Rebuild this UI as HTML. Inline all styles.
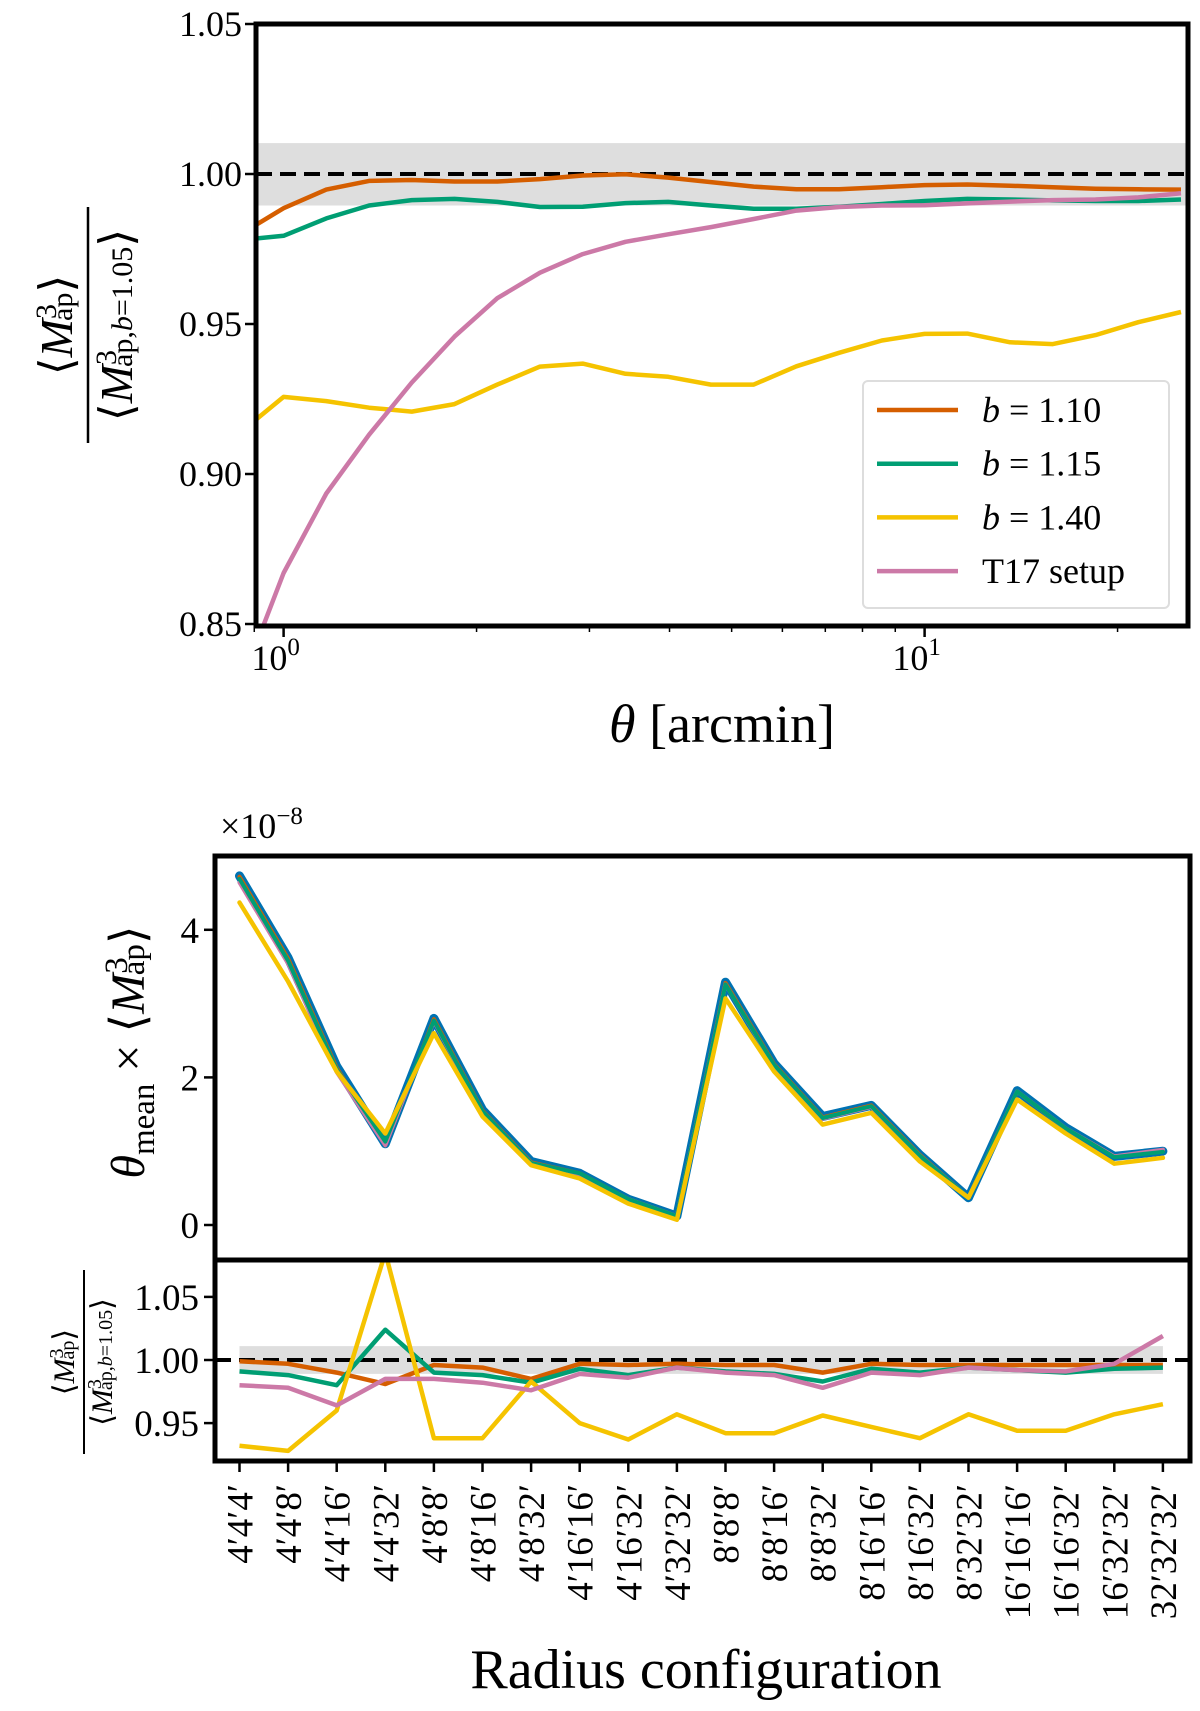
<!DOCTYPE html>
<html><head><meta charset="utf-8"><style>
body{margin:0;background:#fff;}
svg{display:block;font-family:"Liberation Serif",serif;}
</style></head><body>
<svg id="chart" width="1200" height="1711" viewBox="0 0 1200 1711"></svg>
<script>
// ---------- Top panel data ----------
const thetaLog = [-1,0,1,2,3,4,5,6,7,8,9,10,11,12,13,14,15,16,17,18,19,20,21]; // log10(theta)*15
const topB110 = [0.980,0.9886,0.9948,0.9977,0.9980,0.9975,0.9975,0.9983,0.9995,0.9999,0.9988,0.9973,0.9958,0.9949,0.9949,0.9956,0.9963,0.9965,0.9961,0.9956,0.9951,0.9949,0.9948];
const topB115 = [0.978,0.9794,0.9852,0.9895,0.9913,0.9917,0.9907,0.9890,0.9891,0.9903,0.9907,0.9895,0.9884,0.9884,0.9891,0.9900,0.9910,0.9917,0.9915,0.9912,0.9910,0.9910,0.9915];
const topB140 = [0.914,0.9257,0.9243,0.9221,0.9208,0.9233,0.9298,0.9358,0.9368,0.9334,0.9324,0.9298,0.9298,0.9359,0.9404,0.9445,0.9467,0.9468,0.9439,0.9433,0.9463,0.9506,0.9540];
const topT17 = [0.830,0.8670,0.8935,0.9131,0.9305,0.9458,0.9586,0.9671,0.9733,0.9774,0.9799,0.9823,0.9850,0.9878,0.9890,0.9895,0.9896,0.9902,0.9908,0.9913,0.9915,0.9922,0.9936];
const topYTicks = [0.85,0.90,0.95,1.00,1.05];
const topYTickLabels = ["0.85","0.90","0.95","1.00","1.05"];

// ---------- Bottom panels data ----------
const configs = ["4′4′4′","4′4′8′","4′4′16′","4′4′32′","4′8′8′","4′8′16′","4′8′32′","4′16′16′","4′16′32′","4′32′32′","8′8′8′","8′8′16′","8′8′32′","8′16′16′","8′16′32′","8′32′32′","16′16′16′","16′16′32′","16′32′32′","32′32′32′"];
const midB105 = [4.73,3.62,2.15,1.10,2.80,1.56,0.86,0.70,0.35,0.12,3.29,2.19,1.47,1.62,0.95,0.37,1.82,1.32,0.93,1.00];
const midB110 = [4.72,3.61,2.13,1.08,2.79,1.55,0.85,0.70,0.35,0.12,3.28,2.18,1.46,1.62,0.95,0.37,1.81,1.31,0.93,1.00];
const midB115 = [4.69,3.58,2.11,1.13,2.77,1.54,0.84,0.70,0.35,0.12,3.26,2.17,1.45,1.61,0.94,0.37,1.81,1.31,0.92,0.99];
const midT17 = [4.64,3.54,2.07,1.08,2.76,1.53,0.84,0.69,0.35,0.12,3.26,2.16,1.44,1.60,0.94,0.37,1.81,1.31,0.93,1.02];
const midB140 = [4.37,3.30,2.08,1.24,2.60,1.47,0.81,0.63,0.29,0.07,3.07,2.08,1.36,1.52,0.86,0.37,1.70,1.24,0.83,0.91];
const midYTicks = [0,2,4];
const lowB110 = [0.999,0.997,0.990,0.981,0.996,0.994,0.985,0.997,0.996,0.997,0.996,0.996,0.990,0.997,0.996,0.996,0.996,0.996,0.996,0.996];
const lowB115 = [0.991,0.988,0.980,1.024,0.990,0.988,0.982,0.993,0.988,0.994,0.991,0.989,0.983,0.993,0.990,0.994,0.992,0.990,0.993,0.994];
const lowT17 = [0.980,0.978,0.964,0.985,0.985,0.982,0.976,0.989,0.986,0.994,0.990,0.988,0.978,0.990,0.988,0.994,0.992,0.991,0.997,1.019];
const lowB140 = [0.932,0.928,0.960,1.085,0.938,0.938,0.983,0.950,0.937,0.957,0.942,0.942,0.956,0.947,0.938,0.957,0.944,0.944,0.957,0.965];
const lowYTicks = [0.95,1.00,1.05];
const lowYTickLabels = ["0.95","1.00","1.05"];

const C = {o:"#d55e00", g:"#009e73", y:"#f5c300", p:"#cc79a7", b:"#0072b2"};
const NS = "http://www.w3.org/2000/svg";
const svg = document.getElementById('chart');
function mk(tag, attrs, parent, text){
  const e = document.createElementNS(NS, tag);
  for (const k in attrs) e.setAttribute(k, attrs[k]);
  if (text !== undefined) e.textContent = text;
  (parent||svg).appendChild(e);
  return e;
}

// ===== TOP PANEL =====
const T = {l:256, r:1188, t:24, b:626};
const tx = v => 283.6 + (v/15) * 641;
const ty = v => T.t + (1.05 - v) * 3000;
const defs = mk('defs',{});
const cp1 = mk('clipPath',{id:'c1'},defs); mk('rect',{x:T.l,y:T.t,width:T.r-T.l,height:T.b-T.t},cp1);
const g1 = mk('g',{'clip-path':'url(#c1)'});


const band1 = mk('rect',{x:T.l,y:ty(1.0103),width:T.r-T.l,height:ty(0.9895)-ty(1.0103),fill:'#dedede'},g1);


const dash1 = mk('line',{x1:T.l,x2:T.r,y1:ty(1),y2:ty(1),stroke:'#000','stroke-width':4,'stroke-dasharray':'16,8'},g1);


function topLine(arr,col,name){
  const pts = arr.map((v,i)=>tx(thetaLog[i]).toFixed(1)+','+ty(v).toFixed(1)).join(' ');
  const pl = mk('polyline',{points:pts,fill:'none',stroke:col,'stroke-width':4.5,'stroke-linejoin':'round'},g1);
  
  
}
topLine(topB115,C.g,'line-b115');
topLine(topB110,C.o,'line-b110');
topLine(topB140,C.y,'line-b140');
topLine(topT17,C.p,'line-t17');
const f1 = mk('rect',{x:T.l,y:T.t,width:T.r-T.l,height:T.b-T.t,fill:'none',stroke:'#000','stroke-width':5});


topYTicks.forEach((v,i)=>{
  mk('line',{x1:T.l-11,x2:T.l,y1:ty(v),y2:ty(v),stroke:'#000','stroke-width':2.5});
  const t = mk('text',{x:T.l-14,y:ty(v)+12,'text-anchor':'end','font-size':36},svg,topYTickLabels[i]);
  
  
});
for (let d=0; d<=1; d++){
  for (let m=1; m<=9; m++){
    const lv = (d + Math.log10(m))*15;
    const x = tx(lv);
    if (x < T.l || x > T.r) continue;
    mk('line',{x1:x,x2:x,y1:T.b,y2:T.b+(m===1?11:6),stroke:'#000','stroke-width':m===1?2.5:1.5});
  }
}
mk('line',{x1:tx(Math.log10(0.9)*15),x2:tx(Math.log10(0.9)*15),y1:T.b,y2:T.b+6,stroke:'#000','stroke-width':1.5});
[[0,"0"],[15,"1"]].forEach(([lv,e])=>{
  const t = mk('text',{x:tx(lv)-8,y:670,'text-anchor':'middle','font-size':36},svg);
  
  
  mk('tspan',{},t,'10');
  mk('tspan',{dy:-15,'font-size':25},t,e);
});
const xt1 = mk('text',{x:722,y:742,'text-anchor':'middle','font-size':54},svg);


mk('tspan',{'font-style':'italic'},xt1,'θ');
mk('tspan',{},xt1,' [arcmin]');
const yl1 = mk('g',{transform:'translate(88,325) rotate(-90)'});


mk('line',{x1:-118,x2:118,y1:0,y2:0,stroke:'#000','stroke-width':2.5},yl1);
const n1 = mk('text',{x:0,y:-16,'text-anchor':'middle','font-size':46},yl1);
mk('tspan',{},n1,'⟨');mk('tspan',{'font-style':'italic'},n1,'M');mk('tspan',{dy:-16,'font-size':30},n1,'3');mk('tspan',{dy:16,dx:-17,'font-size':30},n1,'ap');mk('tspan',{},n1,'⟩');
const d1 = mk('text',{x:0,y:44,'text-anchor':'middle','font-size':46},yl1);
mk('tspan',{},d1,'⟨');mk('tspan',{'font-style':'italic'},d1,'M');mk('tspan',{dy:-16,'font-size':30},d1,'3');mk('tspan',{dy:16,dx:-17,'font-size':30},d1,'ap,');mk('tspan',{'font-size':30,'font-style':'italic'},d1,'b');mk('tspan',{'font-size':30},d1,'=1.05');mk('tspan',{},d1,'⟩');
const lg = mk('g',{});


mk('rect',{x:863,y:381,width:306,height:227,rx:5,fill:'#fff','fill-opacity':0.85,stroke:'#ddd','stroke-width':2},lg);
[[C.o,'1.10'],[C.g,'1.15'],[C.y,'1.40'],[C.p,null]].forEach(([c,l],i)=>{
  const y = 410 + i*53.7;
  const e = mk('g',{},lg);
  
  
  mk('line',{x1:877,x2:958,y1:y,y2:y,stroke:c,'stroke-width':4.5},e);
  const t = mk('text',{x:982,y:y+12,'font-size':36},e);
  if (l){ mk('tspan',{'font-style':'italic'},t,'b'); mk('tspan',{},t,' = '+l); }
  else t.textContent = 'T17 setup';
});

// ===== MIDDLE PANEL =====
const M = {l:215, r:1190, t:856, b:1260};
const cx = i => 239.5 + i*48.6;
const my = v => 1225 - v*73.8;
const cp2 = mk('clipPath',{id:'c2'},defs); mk('rect',{x:M.l,y:M.t,width:M.r-M.l,height:M.b-M.t},cp2);
const g2 = mk('g',{'clip-path':'url(#c2)'});


function midLine(arr,col,w,name){
  const pts = arr.map((v,i)=>cx(i).toFixed(1)+','+my(v).toFixed(1)).join(' ');
  const pl = mk('polyline',{points:pts,fill:'none',stroke:col,'stroke-width':w,'stroke-linejoin':'round','stroke-linecap':'round'},g2);
  
  
}
midLine(midB105,C.b,9,'line-mid-b105');
midLine(midB110,C.o,4,'line-mid-b110');
midLine(midT17,C.p,4,'line-mid-t17');
midLine(midB115,C.g,4,'line-mid-b115');
midLine(midB140,C.y,4.5,'line-mid-b140');
midYTicks.forEach(v=>{
  mk('line',{x1:M.l-11,x2:M.l,y1:my(v),y2:my(v),stroke:'#000','stroke-width':2.5});
  const t = mk('text',{x:M.l-16,y:my(v)+13,'text-anchor':'end','font-size':37},svg,String(v));
  
  
});
const ex = mk('text',{x:220,y:838,'font-size':36},svg);


mk('tspan',{},ex,'×10');mk('tspan',{dy:-14,'font-size':25},ex,'−8');
const yl2 = mk('g',{transform:'translate(144,1052) rotate(-90)'});


const t2 = mk('text',{x:0,y:0,'text-anchor':'middle','font-size':48},yl2);
mk('tspan',{'font-style':'italic'},t2,'θ');mk('tspan',{dy:10,'font-size':33},t2,'mean');mk('tspan',{dy:-10},t2,'  ×  ⟨');mk('tspan',{'font-style':'italic'},t2,'M');mk('tspan',{dy:-17,'font-size':33},t2,'3');mk('tspan',{dy:17,dx:-18,'font-size':33},t2,'ap');mk('tspan',{},t2,'⟩');

// ===== LOWER PANEL =====
const L = {l:215, r:1190, t:1260, b:1461};
const ly = v => 1360 - (v-1)*1262;
const cp3 = mk('clipPath',{id:'c3'},defs); mk('rect',{x:L.l,y:L.t,width:L.r-L.l,height:L.b-L.t},cp3);
const g3 = mk('g',{'clip-path':'url(#c3)'});


const band3 = mk('rect',{x:cx(0),y:ly(1.011),width:cx(configs.length-1)-cx(0),height:ly(0.989)-ly(1.011),fill:'#dedede'},g3);


const dash3 = mk('line',{x1:L.l,x2:L.r,y1:ly(1),y2:ly(1),stroke:'#000','stroke-width':4,'stroke-dasharray':'16,8'},g3);


function lowLine(arr,col,name){
  const pts = arr.map((v,i)=>cx(i).toFixed(1)+','+ly(v).toFixed(1)).join(' ');
  const pl = mk('polyline',{points:pts,fill:'none',stroke:col,'stroke-width':4.5,'stroke-linejoin':'round'},g3);
  
  
}
lowLine(lowB110,C.o,'line-low-b110');
lowLine(lowB115,C.g,'line-low-b115');
lowLine(lowB140,C.y,'line-low-b140');
lowLine(lowT17,C.p,'line-low-t17');
const f2 = mk('rect',{x:M.l,y:M.t,width:M.r-M.l,height:M.b-M.t,fill:'none',stroke:'#000','stroke-width':5});


const f3 = mk('rect',{x:L.l,y:L.t,width:L.r-L.l,height:L.b-L.t,fill:'none',stroke:'#000','stroke-width':5});


lowYTicks.forEach((v,i)=>{
  mk('line',{x1:L.l-11,x2:L.l,y1:ly(v),y2:ly(v),stroke:'#000','stroke-width':2.5});
  const t = mk('text',{x:L.l-16,y:ly(v)+13,'text-anchor':'end','font-size':37},svg,lowYTickLabels[i]);
  
  
});
configs.forEach((c,i)=>{
  mk('line',{x1:cx(i),x2:cx(i),y1:L.b,y2:L.b+11,stroke:'#000','stroke-width':2.5});
  const t = mk('text',{x:0,y:0,'text-anchor':'end','font-size':37,transform:`translate(${cx(i)+13},1484) rotate(-90)`},svg,c);
  
  
});
const xt3 = mk('text',{x:706,y:1688,'text-anchor':'middle','font-size':56},svg,'Radius configuration');


const yl3 = mk('g',{transform:'translate(84,1362) rotate(-90)'});


mk('line',{x1:-92,x2:92,y1:0,y2:0,stroke:'#000','stroke-width':2},yl3);
const n3 = mk('text',{x:0,y:-10,'text-anchor':'middle','font-size':30},yl3);
mk('tspan',{},n3,'⟨');mk('tspan',{'font-style':'italic'},n3,'M');mk('tspan',{dy:-11,'font-size':20},n3,'3');mk('tspan',{dy:11,dx:-11,'font-size':20},n3,'ap');mk('tspan',{},n3,'⟩');
const d3 = mk('text',{x:0,y:28,'text-anchor':'middle','font-size':30},yl3);
mk('tspan',{},d3,'⟨');mk('tspan',{'font-style':'italic'},d3,'M');mk('tspan',{dy:-11,'font-size':20},d3,'3');mk('tspan',{dy:11,dx:-11,'font-size':20},d3,'ap,');mk('tspan',{'font-size':20,'font-style':'italic'},d3,'b');mk('tspan',{'font-size':20},d3,'=1.05');mk('tspan',{},d3,'⟩');
</script>
</body></html>
